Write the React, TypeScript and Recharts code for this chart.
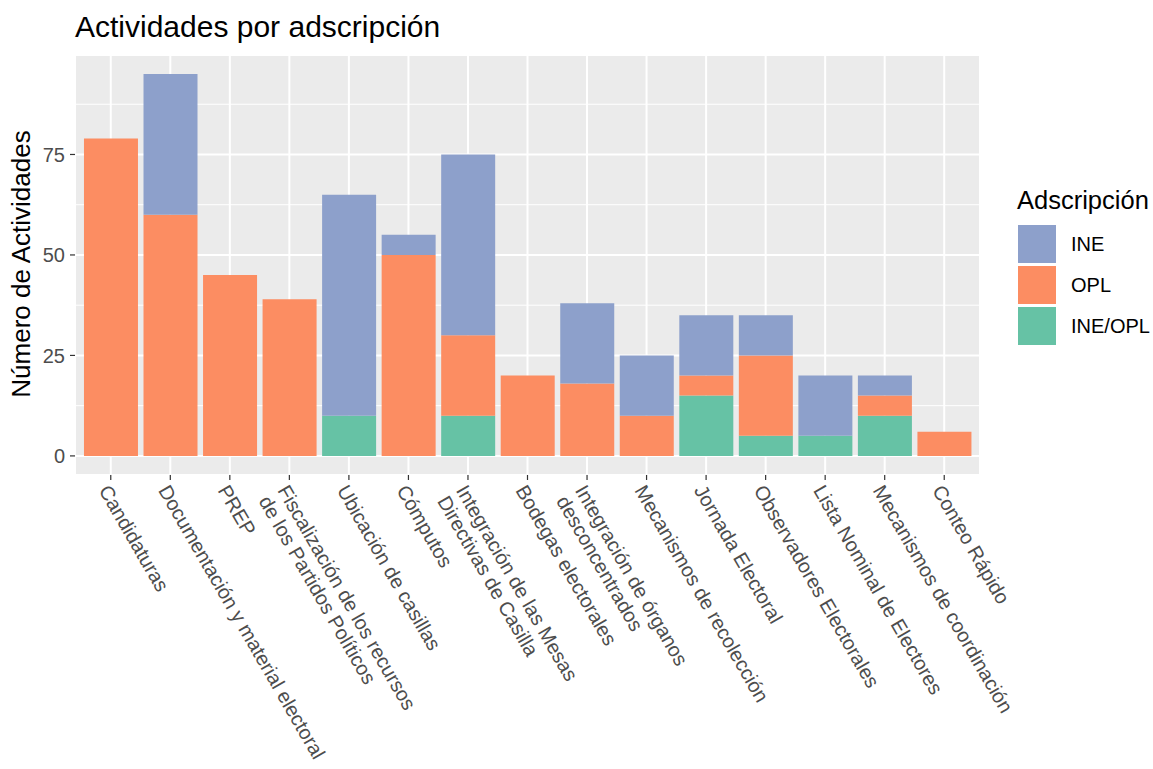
import * as React from "react"
import { BarChart, Bar, XAxis, YAxis, CartesianGrid } from "recharts"

const categories = [
  "Candidaturas",
  "Documentación y material electoral",
  "PREP",
  "Fiscalización de los recursos\nde los Partidos Políticos",
  "Ubicación de casillas",
  "Cómputos",
  "Integración de las Mesas\nDirectivas de Casilla",
  "Bodegas electorales",
  "Integración de órganos\ndesconcentrados",
  "Mecanismos de recolección",
  "Jornada Electoral",
  "Observadores Electorales",
  "Lista Nominal de Electores",
  "Mecanismos de coordinación",
  "Conteo Rápido",
]

const ineOplValues = [0, 0, 0, 0, 10, 0, 10, 0, 0, 0, 15, 5, 5, 10, 0]
const oplValues = [79, 60, 45, 39, 0, 50, 20, 20, 18, 10, 5, 20, 0, 5, 6]
const ineValues = [0, 35, 0, 0, 55, 5, 45, 0, 20, 15, 15, 10, 15, 5, 0]

const yTicks = [0, 25, 50, 75]
const yMinorTicks = [12.5, 37.5, 62.5, 87.5]

const legendItems = [
  { name: "INE", color: "#8DA0CB" },
  { name: "OPL", color: "#FC8D62" },
  { name: "INE/OPL", color: "#66C2A5" },
]

const data = categories.map((name, i) => ({
  name,
  ineOpl: ineOplValues[i],
  opl: oplValues[i],
  ine: ineValues[i],
}))

const FONT = '"Liberation Sans", Arial, sans-serif'

function XTick({ x, y, payload }: any) {
  const lines = String(payload.value).split("\n")
  return (
    <g transform={`translate(${x},${y})`}>
      <text transform="rotate(60)" textAnchor="start" fill="#4D4D4D" fontSize={20} fontFamily={FONT}>
        {lines.map((line, i) => (
          <tspan key={i} x={0} dy={i === 0 ? "0.72em" : "1.08em"}>
            {line}
          </tspan>
        ))}
      </text>
    </g>
  )
}

export default function App() {
  return (
    <div style={{ position: "absolute", left: 0, top: 0, width: 1153, height: 769, background: "#fff", fontFamily: FONT }}>
      <BarChart
        width={1153}
        height={769}
        data={data}
        margin={{ top: 55, right: 173, bottom: 0, left: 0 }}
        barCategoryGap="5%"
      >
        <CartesianGrid fill="#EBEBEB" stroke="#FFFFFF" strokeWidth={2} />
        <CartesianGrid fill="none" stroke="#FFFFFF" strokeWidth={1} vertical={false} horizontalValues={yMinorTicks} />
        <XAxis
          dataKey="name"
          interval={0}
          height={294}
          padding={{ left: 6, right: 6 }}
          axisLine={false}
          tickLine={{ stroke: "#333333", strokeWidth: 1.2 }}
          tickSize={5}
          tickMargin={3}
          tick={<XTick />}
        />
        <YAxis
          type="number"
          width={75}
          domain={[-4.75, 99.75]}
          allowDataOverflow
          ticks={yTicks}
          axisLine={false}
          tickLine={{ stroke: "#333333", strokeWidth: 1.2 }}
          tickSize={5}
          tickMargin={5}
          tick={{ fill: "#4D4D4D", fontSize: 20, fontFamily: FONT }}
        />
        <Bar dataKey="ineOpl" stackId="a" fill="#66C2A5" isAnimationActive={false} />
        <Bar dataKey="opl" stackId="a" fill="#FC8D62" isAnimationActive={false} />
        <Bar dataKey="ine" stackId="a" fill="#8DA0CB" isAnimationActive={false} />
      </BarChart>

      <svg width={1153} height={769} style={{ position: "absolute", left: 0, top: 0, pointerEvents: "none" }}>
        <text x={75} y={37} fontSize={30} fill="#000" fontFamily={FONT}>
          Actividades por adscripción
        </text>
        <text
          transform="translate(30,264) rotate(-90)"
          textAnchor="middle"
          fontSize={26}
          fill="#000"
          fontFamily={FONT}
        >
          Número de Actividades
        </text>
        <text x={1017} y={209} fontSize={25.5} fill="#000" fontFamily={FONT}>
          Adscripción
        </text>
        {legendItems.map((item, i) => (
          <g key={item.name}>
            <rect x={1018} y={225 + i * 41} width={38} height={38} fill={item.color} />
            <text x={1071} y={225 + i * 41 + 19} dy="0.355em" fontSize={20} fill="#000" fontFamily={FONT}>
              {item.name}
            </text>
          </g>
        ))}
      </svg>
    </div>
  )
}
